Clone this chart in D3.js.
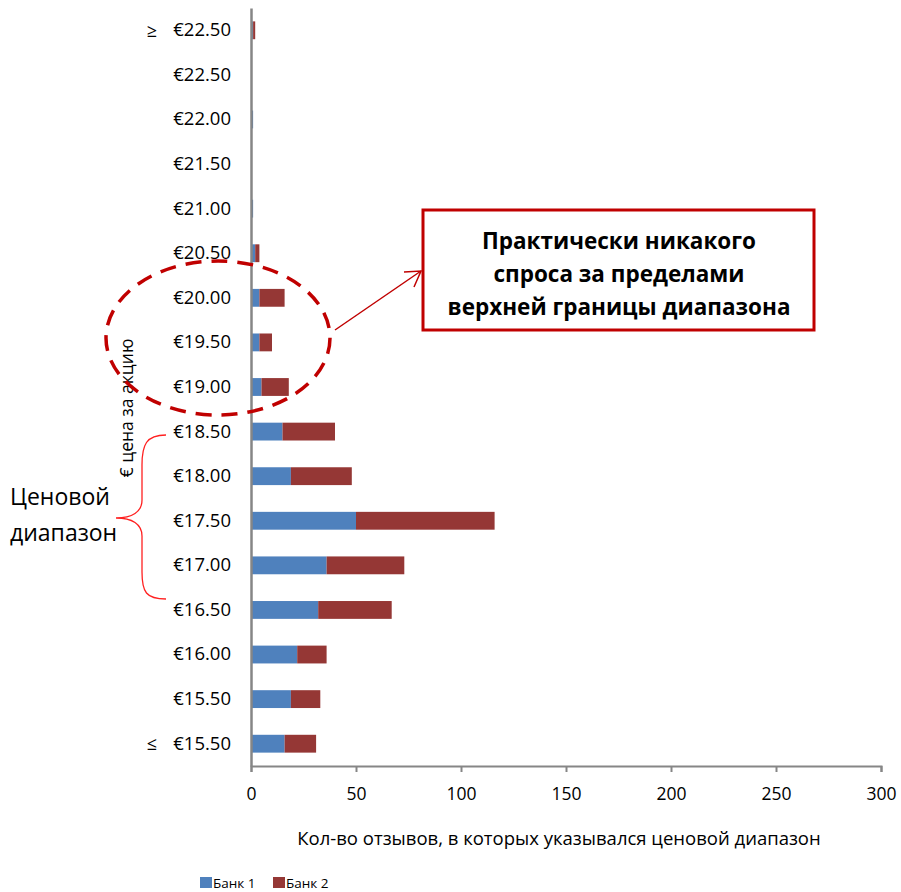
<!DOCTYPE html>
<html>
<head>
<meta charset="utf-8">
<script src="https://cdn.jsdelivr.net/npm/d3@7"></script>
<style>
  body { margin: 0; background: #fff; }
  svg text { font-family: "Open Sans", sans-serif; fill: #000; }
</style>
</head>
<body>
<svg id="chart" width="901" height="892"></svg>
<script>
// price buckets, top to bottom
const labels = ["€22.50","€22.50","€22.00","€21.50","€21.00","€20.50","€20.00","€19.50","€19.00",
                "€18.50","€18.00","€17.50","€17.00","€16.50","€16.00","€15.50","€15.50"];
const prefixes = ["≥","","","","","","","","","","","","","","","","≤"];
const bank1 = [1,0,1,0,1,2,4,4,5,15,19,50,36,32,22,19,16];
const bank2 = [1,0,0,0,0,2,12,6,13,25,29,66,37,35,14,14,15];
const series = ["Банк 1", "Банк 2"];
const colors = ["#4f81bd", "#953735"];
const xTicks = [0, 50, 100, 150, 200, 250, 300];

const svg = d3.select("#chart");
const plotLeft = 251, plotRight = 881, plotTop = 8, plotBottom = 766;

const x = d3.scaleLinear().domain([0, 300]).range([plotLeft, plotRight]);
const y = d3.scaleBand().domain(d3.range(labels.length)).range([plotTop, plotBottom])
  .paddingInner(0.6).paddingOuter(0.3);

const rows = labels.map((l, i) => ({ i, b1: bank1[i], b2: bank2[i] }));
const stack = d3.stack().keys(["b1", "b2"])(rows);

svg.append("g").selectAll("g")
  .data(stack)
  .join("g")
  .attr("fill", (d, k) => colors[k])
  .selectAll("rect")
  .data(d => d)
  .join("rect")
  .attr("x", d => x(d[0]))
  .attr("y", d => y(d.data.i))
  .attr("width", d => x(d[1]) - x(d[0]))
  .attr("height", y.bandwidth());

// x axis
const xAxis = svg.append("g")
  .attr("transform", `translate(0,${plotBottom})`)
  .call(d3.axisBottom(x).tickValues(xTicks).tickSize(6).tickPadding(16));
xAxis.select(".domain").attr("stroke", "#868686").attr("stroke-width", 2);
xAxis.selectAll(".tick line").attr("stroke", "#868686").attr("stroke-width", 2);
xAxis.selectAll("text").style("font-size", "17.5px");

// y axis
const yAxis = svg.append("g")
  .attr("transform", `translate(${plotLeft},0)`)
  .call(d3.axisLeft(y).tickFormat(i => labels[i]).tickSize(0).tickPadding(20));
yAxis.select(".domain").attr("stroke", "#868686").attr("stroke-width", 2.5);
yAxis.selectAll("text").style("font-size", "18.5px");

svg.append("g").selectAll("text")
  .data(d3.range(labels.length).filter(i => prefixes[i]))
  .join("text")
  .attr("x", 152)
  .attr("y", i => y(i) + y.bandwidth() / 2)
  .attr("dy", "0.35em")
  .attr("text-anchor", "middle")
  .style("font-size", "18px")
  .text(i => prefixes[i]);

// axis titles
svg.append("text")
  .attr("transform", "translate(133,408) rotate(-90)")
  .attr("text-anchor", "middle")
  .style("font-size", "17.5px")
  .text("€ цена за акцию");

svg.append("text")
  .attr("x", 559).attr("y", 845)
  .attr("text-anchor", "middle")
  .style("font-size", "18.5px")
  .text("Кол-во отзывов, в которых указывался ценовой диапазон");

// legend
const legend = svg.append("g").attr("transform", "translate(200,877)");
series.forEach((s, k) => {
  const g = legend.append("g").attr("transform", `translate(${k * 73},0)`);
  g.append("rect").attr("width", 12).attr("height", 11).attr("fill", colors[k]);
  g.append("text").attr("x", 13).attr("y", 10.5).style("font-size", "13.5px").text(s);
});

// dashed ellipse annotation
svg.append("ellipse")
  .attr("cx", 218).attr("cy", 338).attr("rx", 112).attr("ry", 77)
  .attr("fill", "none").attr("stroke", "#c00000")
  .attr("stroke-width", 3.5).attr("stroke-dasharray", "16 10");

// arrow to callout
svg.append("line")
  .attr("x1", 335).attr("y1", 330).attr("x2", 421).attr("y2", 271)
  .attr("stroke", "#c00000").attr("stroke-width", 1.5);
svg.append("path")
  .attr("d", "M404,272 L421,271 L414,287")
  .attr("fill", "none").attr("stroke", "#c00000").attr("stroke-width", 1.5);

// callout box
svg.append("rect")
  .attr("x", 423).attr("y", 210).attr("width", 391).attr("height", 120)
  .attr("fill", "#fff").attr("stroke", "#c00000").attr("stroke-width", 3);
["Практически никакого", "спроса за пределами", "верхней границы диапазона"].forEach((t, k) => {
  svg.append("text")
    .attr("x", 619).attr("y", 249 + k * 33)
    .attr("text-anchor", "middle")
    .style("font-size", "22.5px").style("font-weight", "bold")
    .text(t);
});

// brace for the price range
svg.append("path")
  .attr("d", "M166,435 C146,435 142,445 142,465 L142,500 C142,512 132,518 116,518 C132,518 142,524 142,536 L142,572 C142,592 146,599 166,599")
  .attr("fill", "none").attr("stroke", "#ff2020").attr("stroke-width", 1.3);

svg.append("text").attr("x", 10).attr("y", 505).style("font-size", "23px").text("Ценовой");
svg.append("text").attr("x", 10).attr("y", 541).style("font-size", "23px").text("диапазон");
</script>
</body>
</html>
